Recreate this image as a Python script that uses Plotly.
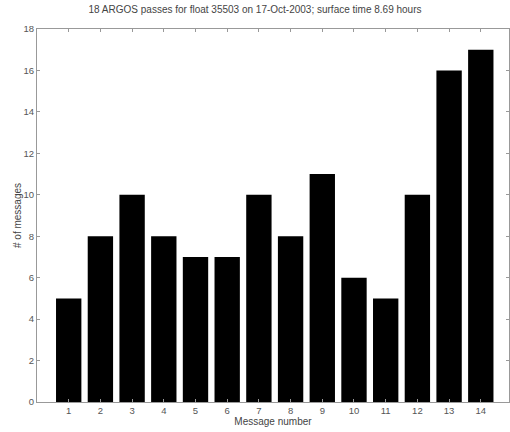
import plotly.graph_objects as go

messages = list(range(1, 15))
counts = [5, 8, 10, 8, 7, 7, 10, 8, 11, 6, 5, 10, 16, 17]
y_ticks = list(range(0, 19, 2))
title = "18 ARGOS passes for float 35503 on 17-Oct-2003; surface time 8.69 hours"

fig = go.Figure(go.Bar(x=messages, y=counts, width=0.8,
                       marker=dict(color="black", line=dict(width=0))))

axis_common = dict(showline=True, linecolor="#999", linewidth=1, mirror="allticks",
                   ticks="inside", ticklen=3, tickcolor="#999", showgrid=False, zeroline=False,
                   tickfont=dict(size=9.5, color="#555", family="Liberation Sans, Arial"))

fig.update_layout(
    width=510, height=432,
    margin=dict(l=37, r=1, t=29, b=30),
    plot_bgcolor="white", paper_bgcolor="white",
    title=dict(text=title, x=0.5, xanchor="center", y=0.985, yanchor="top",
               font=dict(size=10, color="#444", family="Liberation Sans, Arial")),
    xaxis=dict(range=[0, 14.89], tickvals=messages, ticktext=[str(m) for m in messages],
               title=dict(text="Message number", standoff=1,
                          font=dict(size=10, color="#444", family="Liberation Sans, Arial")),
               **axis_common),
    yaxis=dict(range=[0, 18], tickvals=y_ticks,
               title=dict(text="# of messages", standoff=0,
                          font=dict(size=10, color="#444", family="Liberation Sans, Arial")),
               **axis_common),
    bargap=0.2,
)

fig.write_html("out.html")
